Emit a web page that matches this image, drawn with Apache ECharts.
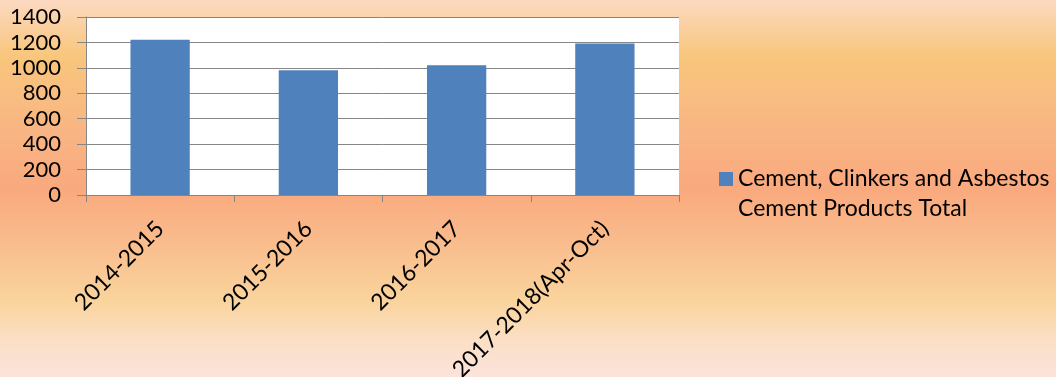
<!DOCTYPE html>
<html><head><meta charset="utf-8">
<script src="https://cdn.jsdelivr.net/npm/echarts@6/dist/echarts.min.js"></script>
<style>html,body{margin:0;padding:0;background:#fff}#c{width:1056px;height:377px}</style>
</head><body><div id="c"></div>
<script>
const categories = ['2014-2015', '2015-2016', '2016-2017', '2017-2018(Apr-Oct)'];
const values = [1221, 981, 1021, 1192];
const seriesName = 'Cement, Clinkers and Asbestos\nCement Products Total';
const yMin = 0, yMax = 1400, yInterval = 200;

const FONT = 'Lato';
const chart = echarts.init(document.getElementById('c'), null, {renderer: 'canvas'});
chart.setOption({
  animation: false,
  backgroundColor: {
    type: 'linear', x: 0, y: 0, x2: 0, y2: 1,
    colorStops: [
      {offset: 0, color: '#fcd9c1'},
      {offset: 0.15, color: '#f8c67c'},
      {offset: 0.35, color: '#f9b584'},
      {offset: 0.5, color: '#f9a97e'},
      {offset: 0.62, color: '#f9b98a'},
      {offset: 0.8, color: '#fad49d'},
      {offset: 0.9, color: '#fbdfc5'},
      {offset: 1, color: '#fce3dc'}
    ]
  },
  grid: {left: 86, right: 377, top: 17, bottom: 182, show: true, backgroundColor: '#ffffff', borderWidth: 0,
         containLabel: false, outerBoundsMode: 'none'},
  legend: {
    show: true,
    left: 719, top: 134,
    padding: 0,
    itemWidth: 14, itemHeight: 14,
    icon: 'rect',
    formatter: function (name) { return '\n' + name; },
    textStyle: {fontFamily: FONT, fontSize: 23, color: '#000', lineHeight: 30},
    data: [seriesName]
  },
  xAxis: {
    type: 'category',
    data: categories,
    axisLine: {lineStyle: {color: '#868686', width: 1}},
    axisTick: {show: true, length: 7, lineStyle: {color: '#868686'}},
    axisLabel: {rotate: 45, fontFamily: FONT, fontSize: 23, color: '#000', margin: 30, interval: 0}
  },
  yAxis: {
    type: 'value',
    min: yMin, max: yMax, interval: yInterval,
    axisLine: {show: true, lineStyle: {color: '#868686', width: 1}},
    axisTick: {show: true, length: 9, lineStyle: {color: '#868686'}},
    splitLine: {show: true, lineStyle: {color: '#868686', width: 1}},
    axisLabel: {fontFamily: FONT, fontSize: 22, color: '#000', margin: 25, formatter: function (v) { return String(v); }}
  },
  series: [{
    name: seriesName,
    type: 'bar',
    data: values,
    barWidth: '40%',
    itemStyle: {color: '#4f81bd'}
  }]
});
</script></body></html>
